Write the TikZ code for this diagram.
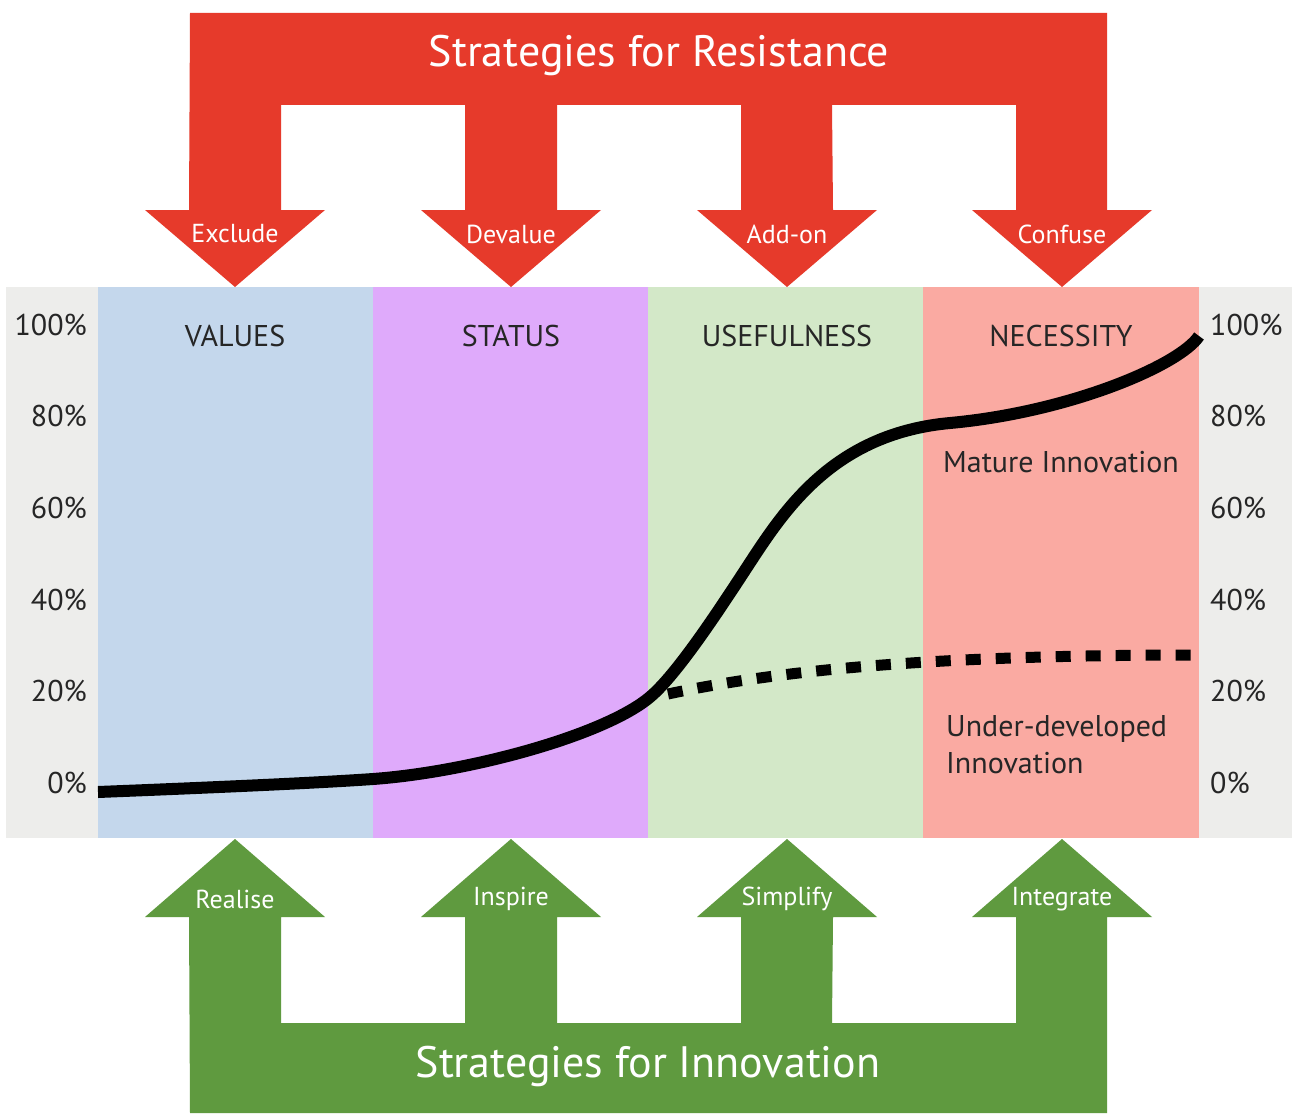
\documentclass[tikz,border=0pt]{standalone}
\usepackage{fontspec}
\setmainfont{PT Sans}
\definecolor{resred}{HTML}{E63A2B}
\definecolor{innogreen}{HTML}{5F9A3F}
\definecolor{colblue}{HTML}{C4D7EC}
\definecolor{colpurple}{HTML}{DFAAFB}
\definecolor{colgreen}{HTML}{D3E8C8}
\definecolor{colred}{HTML}{FAAAA2}
\definecolor{bggray}{HTML}{EDEDEB}
\tikzset{
  arrowlabel/.style={text=white, font=\fontsize{26}{29}\selectfont, inner sep=0pt},
  bigtitle/.style={text=white, font=\fontsize{44}{50}\selectfont, inner sep=0pt},
  axlabel/.style={text=black!85, font=\fontsize{30}{34}\selectfont, inner sep=0pt},
  colhead/.style={text=black!85, font=\fontsize{30}{34}\selectfont, inner sep=0pt},
  curvelabel/.style={text=black!85, font=\fontsize{30}{34}\selectfont, inner sep=0pt},
}
\begin{document}
\begin{tikzpicture}[x=1pt,y=-1pt]
\useasboundingbox (0,0) rectangle (1292,1118);
\fill[white] (0,0) rectangle (1292,1118);
% background band and columns
\fill[bggray] (6,287) rectangle (1292,838);
\fill[colblue] (98,287) rectangle (373,838);
\fill[colpurple] (373,287) rectangle (648,838);
\fill[colgreen] (648,287) rectangle (923,838);
\fill[colred] (923,287) rectangle (1199,838);
% resistance arrows (red)
\fill[resred] (190,13) -- (1107,13) -- (1107,210)
  \foreach \c/\n in {1062/0,787/1,511/2,235/3}{
   -- ({\c+46},210) -- ({\c+90},210) -- (\c,287) -- ({\c-90},210) -- ({\c-46},210)
   \ifnum\n<3 -- ({\c-46},105) -- ({\c-230},105)\fi
  } -- cycle;
% innovation arrows (green)
\fill[innogreen] (190,1113) -- (1107,1113) -- (1107,917)
  \foreach \c/\n in {1062/0,787/1,511/2,235/3}{
   -- ({\c+46},917) -- ({\c+90},917) -- (\c,839) -- ({\c-90},917) -- ({\c-46},917)
   \ifnum\n<3 -- ({\c-46},1023) -- ({\c-230},1023)\fi
  } -- cycle;
\node[bigtitle] (rtitle) at (659,56) {Strategies for Resistance};
\node[bigtitle] (ititle) at (648,1066) {Strategies for Innovation};
\node[arrowlabel] (exclude) at (235,234) {Exclude};
\node[arrowlabel] (devalue) at (511,234) {Devalue};
\node[arrowlabel] (addon) at (787,234) {Add-on};
\node[arrowlabel] (confuse) at (1062,234) {Confuse};
\node[arrowlabel] (realise) at (235,899) {Realise};
\node[arrowlabel] (inspire) at (511,899) {Inspire};
\node[arrowlabel] (simplify) at (787,899) {Simplify};
\node[arrowlabel] (integrate) at (1062,899) {Integrate};
% column headers
\node[colhead] (values) at (235,336) {VALUES};
\node[colhead] (status) at (511,336) {STATUS};
\node[colhead] (useful) at (787,336) {USEFULNESS};
\node[colhead] (necess) at (1061,336) {NECESSITY};
% axis labels
\foreach \v/\y in {100/325,80/416,60/508,40/600,20/691,0/783}{
  \node[axlabel, anchor=east] (l\v) at (87,\y) {\v\%};
  \node[axlabel, anchor=west] (r\v) at (1210,\y) {\v\%};
}
% curves
\draw[line width=11pt, dash pattern=on 15pt off 15pt] (668,694) .. controls (790,668) and (950,655) .. (1199,655);
\draw[line width=12pt, line cap=butt]
  (98,792) .. controls (250,786) and (330,782) .. (373,779)
  .. controls (470,772) and (605,735) .. (650,697)
  .. controls (680,672) and (730,593) .. (755,555)
  .. controls (790,502) and (840,433) .. (950,423)
  .. controls (1070,412) and (1180,365) .. (1199,336);
\node[curvelabel] (mature) at (1061,462) {Mature Innovation};
\node[curvelabel, anchor=west, align=left] (under) at (946,745) {Under-developed\\[3pt]Innovation};
\end{tikzpicture}
\end{document}
